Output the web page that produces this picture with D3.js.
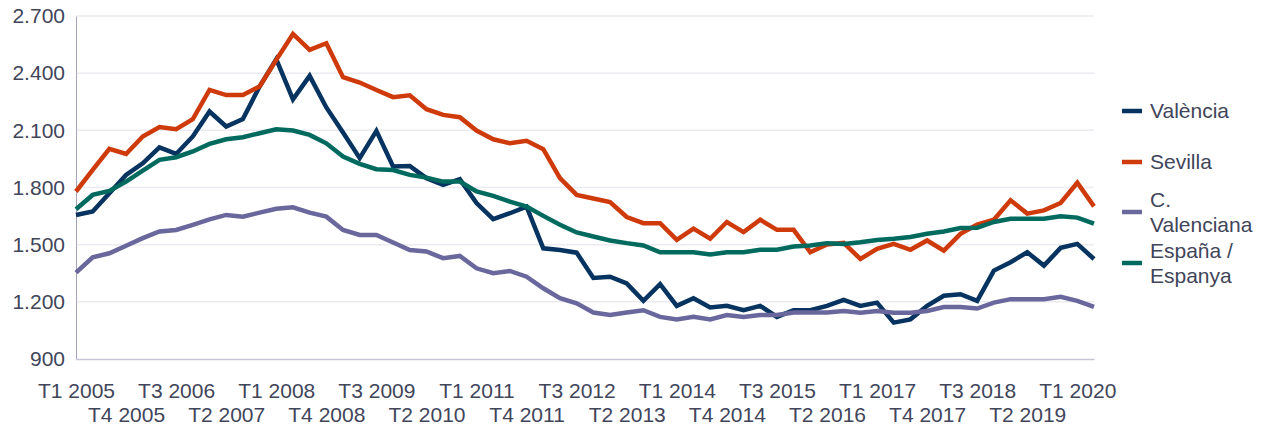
<!DOCTYPE html>
<html>
<head>
<meta charset="utf-8">
<script src="https://cdn.jsdelivr.net/npm/d3@7"></script>
<style>
  html, body { margin: 0; padding: 0; background: #fff; }
  svg { display: block; font-family: "Liberation Sans", Arial, sans-serif; }
</style>
</head>
<body>
<div id="chart"></div>
<script>
// Trimestres T1 2005 .. T2 2020
const quarters = [
  "T1 2005","T2 2005","T3 2005","T4 2005","T1 2006","T2 2006","T3 2006","T4 2006",
  "T1 2007","T2 2007","T3 2007","T4 2007","T1 2008","T2 2008","T3 2008","T4 2008",
  "T1 2009","T2 2009","T3 2009","T4 2009","T1 2010","T2 2010","T3 2010","T4 2010",
  "T1 2011","T2 2011","T3 2011","T4 2011","T1 2012","T2 2012","T3 2012","T4 2012",
  "T1 2013","T2 2013","T3 2013","T4 2013","T1 2014","T2 2014","T3 2014","T4 2014",
  "T1 2015","T2 2015","T3 2015","T4 2015","T1 2016","T2 2016","T3 2016","T4 2016",
  "T1 2017","T2 2017","T3 2017","T4 2017","T1 2018","T2 2018","T3 2018","T4 2018",
  "T1 2019","T2 2019","T3 2019","T4 2019","T1 2020","T2 2020"
];

// etiquetas del eje X (una de cada tres)
const xTickLabels = [
  "T1 2005","T4 2005","T3 2006","T2 2007","T1 2008","T4 2008","T3 2009",
  "T2 2010","T1 2011","T4 2011","T3 2012","T2 2013","T1 2014","T4 2014",
  "T3 2015","T2 2016","T1 2017","T4 2017","T3 2018","T2 2019","T1 2020"
];

const yTicks = [900, 1200, 1500, 1800, 2100, 2400, 2700];

const valencia = [
  1656, 1674, 1770, 1866, 1927, 2010, 1976, 2068, 2199, 2120, 2159, 2330, 2473, 2263, 2386, 2220,
  2089, 1954, 2097, 1910, 1913, 1849, 1814, 1844, 1718, 1634, 1665, 1700, 1481, 1472, 1458,
  1325, 1332, 1297, 1205, 1293, 1179, 1219, 1170, 1179, 1156, 1179, 1121, 1156, 1156, 1179,
  1210, 1179, 1196, 1091, 1108, 1179, 1232, 1240, 1205, 1364, 1408, 1460, 1390, 1483, 1504, 1425
];

const sevilla = [
  1779, 1892, 2003, 1976, 2068, 2117, 2106, 2159, 2312, 2285, 2285, 2330, 2470, 2606, 2522, 2557,
  2379, 2351, 2312, 2274, 2284, 2211, 2181, 2169, 2099, 2053, 2032, 2045, 2001, 1849, 1761,
  1742, 1724, 1645, 1613, 1613, 1525, 1584, 1531, 1619, 1566, 1631, 1578, 1578, 1460, 1501,
  1510, 1425, 1478, 1504, 1473, 1522, 1469, 1557, 1606, 1631, 1733, 1663, 1680, 1719, 1825, 1701
];

const cValenciana = [
  1353, 1434, 1455, 1494, 1534, 1569, 1577, 1604, 1633, 1656, 1647, 1668, 1688, 1696, 1668, 1647,
  1577, 1551, 1551, 1511, 1472, 1464, 1429, 1441, 1376, 1350, 1362, 1332, 1271, 1219, 1192,
  1144, 1131, 1144, 1156, 1121, 1108, 1121, 1108, 1131, 1121, 1131, 1131, 1144, 1144, 1144,
  1152, 1143, 1152, 1143, 1143, 1152, 1173, 1173, 1165, 1196, 1214, 1214, 1214, 1226, 1205, 1173
];

const espana = [
  1686, 1761, 1782, 1831, 1889, 1945, 1959, 1989, 2029, 2053, 2064, 2085, 2106, 2099, 2076, 2032,
  1962, 1924, 1896, 1892, 1866, 1852, 1831, 1831, 1779, 1756, 1726, 1700, 1651, 1604, 1564,
  1543, 1522, 1508, 1496, 1460, 1460, 1460, 1448, 1460, 1460, 1473, 1473, 1490, 1496, 1508,
  1504, 1513, 1525, 1531, 1540, 1557, 1569, 1587, 1589, 1619, 1636, 1636, 1636, 1649, 1642, 1610
];

const seriesNames = ["València", "Sevilla", "C. Valenciana", "España / Espanya"];
const legendLines = [["València"], ["Sevilla"], ["C.", "Valenciana"], ["España /", "Espanya"]];
const seriesColors = ["#06335f", "#cf3a0a", "#6a679c", "#006a5f"];

const series = [
  { name: seriesNames[0], values: valencia },
  { name: seriesNames[1], values: sevilla },
  { name: seriesNames[2], values: cValenciana },
  { name: seriesNames[3], values: espana }
];

const W = 1267, H = 433;
const margin = { top: 16, right: 173, bottom: 74, left: 76 };
const innerW = W - margin.left - margin.right;
const innerH = H - margin.top - margin.bottom;
const textColor = "#41455a";
const fontSize = 21;

const svg = d3.select("#chart").append("svg")
  .attr("width", W)
  .attr("height", H);

const g = svg.append("g")
  .attr("transform", `translate(${margin.left},${margin.top})`);

const x = d3.scalePoint().domain(quarters).range([0, innerW]);
const y = d3.scaleLinear().domain([900, 2700]).range([innerH, 0]);

const locale = d3.formatLocale({ decimal: ",", thousands: ".", grouping: [3], currency: ["", "€"] });
const fmt = locale.format(",.0f");

// gridlines
g.append("g")
  .selectAll("line")
  .data(yTicks.filter(t => t > 900))
  .join("line")
  .attr("x1", 0)
  .attr("x2", innerW)
  .attr("y1", d => y(d))
  .attr("y2", d => y(d))
  .attr("stroke", "#ebebf1")
  .attr("stroke-width", 1.5);

// eje Y
const yAxisG = g.append("g")
  .call(d3.axisLeft(y).tickValues(yTicks).tickSize(0).tickPadding(11).tickFormat(fmt));
yAxisG.select(".domain").attr("stroke", "#a3a3bb").attr("stroke-width", 1);
yAxisG.selectAll("text")
  .attr("fill", textColor)
  .style("font-size", fontSize + "px")
  .style("font-family", "\"Liberation Sans\", Arial, sans-serif");

// eje X
const xAxisG = g.append("g")
  .attr("transform", `translate(0,${innerH})`)
  .call(d3.axisBottom(x).tickValues(xTickLabels).tickSize(0).tickPadding(24));
xAxisG.select(".domain").attr("stroke", "#c6c6d6").attr("stroke-width", 1.5);
xAxisG.selectAll("text")
  .attr("fill", textColor)
  .style("font-size", fontSize + "px")
  .style("font-family", "\"Liberation Sans\", Arial, sans-serif")
  .attr("y", (d, i) => i % 2 === 0 ? 24 : 48);

// líneas
const line = d3.line()
  .x((d, i) => x(quarters[i]))
  .y(d => y(d));

g.append("g")
  .selectAll("path")
  .data(series)
  .join("path")
  .attr("fill", "none")
  .attr("stroke", (d, i) => seriesColors[i])
  .attr("stroke-width", 4.5)
  .attr("stroke-linejoin", "miter")
  .attr("stroke-linecap", "butt")
  .attr("d", d => line(d.values));

// leyenda
const legendY = [111, 162, 212, 263];
const legend = svg.append("g");
legendLines.forEach((lines, i) => {
  const cy = legendY[i];
  legend.append("line")
    .attr("x1", 1122)
    .attr("x2", 1142)
    .attr("y1", cy)
    .attr("y2", cy)
    .attr("stroke", seriesColors[i])
    .attr("stroke-width", 4.5);
  const lh = 25;
  const startY = cy - (lines.length - 1) * lh / 2;
  lines.forEach((t, j) => {
    legend.append("text")
      .attr("x", 1150)
      .attr("y", startY + j * lh)
      .attr("dy", "0.35em")
      .attr("fill", textColor)
      .style("font-size", fontSize + "px")
      .text(t);
  });
});
</script>
</body>
</html>
